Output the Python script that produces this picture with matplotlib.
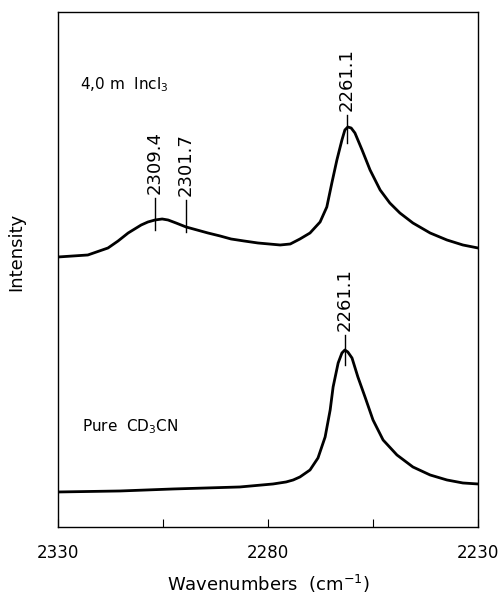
import matplotlib
matplotlib.use("Agg")
import matplotlib.pyplot as plt

# Raman spectra, nu(CN) region (arbitrary intensity units)
wn_incl = [2330.0, 2322.9, 2318.1, 2315.7, 2313.3, 2310.2, 2308.6, 2306.9, 2305.2,
           2303.8, 2301.9, 2299.5, 2296.9, 2294.3, 2291.4, 2288.8, 2285.7, 2282.4,
           2277.1, 2274.7, 2272.4, 2270.0, 2267.6, 2266.0, 2264.8, 2263.6, 2262.4,
           2261.7, 2261.0, 2260.2, 2259.3, 2257.6, 2255.7, 2253.3, 2251.0, 2248.6,
           2245.5, 2241.4, 2237.4, 2233.6, 2230.0]
int_incl = [2.70, 2.72, 2.79, 2.86, 2.94, 3.02, 3.05, 3.07, 3.08,
            3.07, 3.04, 3.00, 2.97, 2.94, 2.91, 2.88, 2.86, 2.84,
            2.82, 2.83, 2.88, 2.94, 3.05, 3.20, 3.44, 3.67, 3.87,
            3.97, 4.00, 3.99, 3.94, 3.77, 3.57, 3.37, 3.24, 3.14,
            3.04, 2.94, 2.87, 2.82, 2.79]

wn_pure = [2330.0, 2315.2, 2302.6, 2286.7, 2278.8, 2275.7, 2274.0, 2272.4, 2270.0,
           2268.1, 2266.4, 2265.2, 2264.5, 2263.3, 2262.4, 2261.7, 2261.0, 2260.0,
           2258.6, 2256.9, 2255.0, 2252.6, 2249.3, 2245.5, 2241.4, 2237.4, 2233.6,
           2230.0]
int_pure = [0.35, 0.36, 0.38, 0.40, 0.43, 0.45, 0.47, 0.50, 0.57,
            0.69, 0.90, 1.17, 1.40, 1.64, 1.74, 1.77, 1.75, 1.69,
            1.50, 1.30, 1.07, 0.87, 0.72, 0.60, 0.52, 0.47, 0.44,
            0.43]

# peak markers: where the tick is drawn, and its label
peak_x = [2306.9, 2299.5, 2261.2, 2261.7]
peak_lbl = ["2309.4", "2301.7", "2261.1", "2261.1"]
tick_lo = [2.97, 2.95, 3.84, 1.62]
tick_hi = [3.29, 3.27, 4.12, 1.92]

plt.rcParams['font.family'] = ['DejaVu Sans']

fig = plt.figure(figsize=(5.01, 5.97), dpi=100)
ax = fig.add_axes([0.1158, 0.1173, 0.8383, 0.8626])

ax.plot(wn_incl, int_incl, color='black', lw=2.0, solid_joinstyle='round')
ax.plot(wn_pure, int_pure, color='black', lw=2.0, solid_joinstyle='round')

for x, lbl, lo, hi in zip(peak_x, peak_lbl, tick_lo, tick_hi):
    ax.plot([x, x], [lo, hi], color='black', lw=1.0)
    ax.text(x, hi + 0.04, lbl, rotation=90, ha='center', va='bottom', fontsize=13)

ax.text(2324.8, 4.42, "4,0 m  Incl$_3$", fontsize=11, va='center', ha='left')
ax.text(2324.3, 1.00, "Pure  CD$_3$CN", fontsize=11, va='center', ha='left')

ax.set_xlim(2330, 2230)
ax.set_ylim(0, 5.15)
ax.set_xticks([2330, 2305, 2280, 2255, 2230])
ax.set_xticklabels(["2330", "", "2280", "", "2230"])
ax.tick_params(axis='x', direction='in', length=6, labelsize=12, pad=12, top=False)
ax.set_yticks([])
for s in ax.spines.values():
    s.set_linewidth(1.0)

ax.set_xlabel("Wavenumbers  (cm$^{-1}$)", fontsize=13, labelpad=8)
ax.set_ylabel("Intensity", fontsize=13)
ax.yaxis.set_label_coords(-0.078, 0.534)

fig.savefig("out.png", dpi=100)
